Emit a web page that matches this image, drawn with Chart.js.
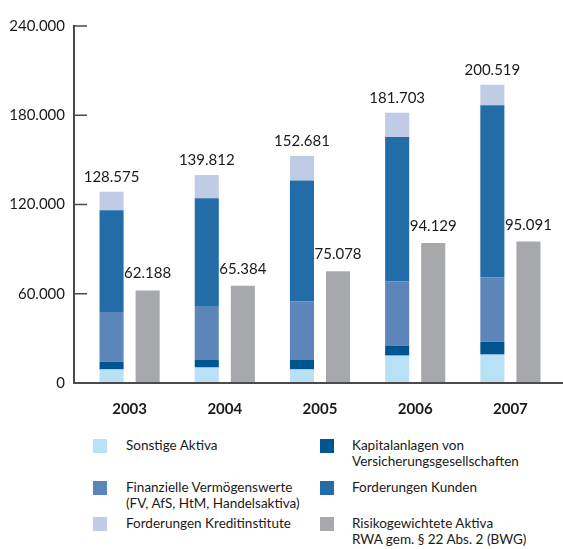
<!DOCTYPE html>
<html lang="de">
<head>
<meta charset="utf-8">
<script src="https://cdn.jsdelivr.net/npm/chart.js@4.4.0/dist/chart.umd.min.js"></script>
<style>
  body { margin: 0; background: #fff; font-family: Lato, sans-serif; }
  #wrap { position: relative; width: 563px; height: 549px; }
  #chart { position: absolute; left: 0; top: 0; }
  .item { position: absolute; font-size: 13.5px; line-height: 16px; color: #1a1a1a; white-space: pre-line; }
  .item span.box { position: absolute; width: 14px; height: 14px; }
</style>
</head>
<body>
<div id="wrap">
  <canvas id="chart" width="563" height="435"></canvas>
  <div id="legend"></div>
</div>
<script>
// Jahre
const years = ["2003", "2004", "2005", "2006", "2007"];

// Bilanzsumme, gestapelt (von unten nach oben)
const sonstigeAktiva = [9100, 10400, 9100, 18400, 19100];
const kapitalanlagen = [5300, 5400, 6700, 6700, 8600];
const finanzielleVW = [33300, 35900, 39200, 43200, 43300];
const forderungenKunden = [68500, 72500, 81200, 97100, 115700];
const forderungenKI = [12375, 15612, 16481, 16303, 13819];

// Risikogewichtete Aktiva
const rwa = [62188, 65384, 75078, 94129, 95091];

// Achse
const yTicks = [0, 60000, 120000, 180000, 240000];

const seriesNames = [
  "Sonstige Aktiva",
  "Kapitalanlagen von\nVersicherungsgesellschaften",
  "Finanzielle Vermögenswerte\n(FV, AfS, HtM, Handelsaktiva)",
  "Forderungen Kunden",
  "Forderungen Kreditinstitute",
  "Risikogewichtete Aktiva\nRWA gem. § 22 Abs. 2 (BWG)"
];
const seriesColors = ["#b9e1f6", "#00548f", "#5c85ba", "#226ca8", "#c0cce5", "#a7a8ac"];
const seriesData = [sonstigeAktiva, kapitalanlagen, finanzielleVW, forderungenKunden, forderungenKI, rwa];

function fmt(n) {
  return String(n).replace(/\B(?=(\d{3})+(?!\d))/g, ".");
}

const datasets = seriesData.map((d, i) => ({
  label: seriesNames[i],
  data: d,
  backgroundColor: seriesColors[i],
  stack: i < 5 ? "bilanz" : "rwa",
  borderWidth: 0,
  categoryPercentage: 0.758,
  barPercentage: 0.667
}));

// Achsenlinien wie im Original (Striche nach innen)
const axisPlugin = {
  id: "axisLines",
  afterDatasetsDraw(chart) {
    const ctx = chart.ctx;
    const y = chart.scales.y;
    const axX = chart.chartArea.left - 8;
    ctx.save();
    ctx.strokeStyle = "#4a4a4a";
    ctx.lineWidth = 2;
    ctx.beginPath();
    ctx.moveTo(axX, y.getPixelForValue(yTicks[yTicks.length - 1]) - 1);
    ctx.lineTo(axX, y.getPixelForValue(0) + 1);
    ctx.stroke();
    ctx.beginPath();
    ctx.moveTo(axX - 1, y.getPixelForValue(0));
    ctx.lineTo(chart.width, y.getPixelForValue(0));
    ctx.stroke();
    ctx.lineWidth = 1.5;
    yTicks.slice(1).forEach(v => {
      const py = y.getPixelForValue(v);
      ctx.beginPath();
      ctx.moveTo(axX, py);
      ctx.lineTo(axX + 13, py);
      ctx.stroke();
    });
    ctx.restore();
  }
};

// Werte über den Säulen
const valuePlugin = {
  id: "valueLabels",
  afterDatasetsDraw(chart) {
    const ctx = chart.ctx;
    ctx.save();
    ctx.font = "15px Lato";
    ctx.fillStyle = "#1a1a1a";
    ctx.textAlign = "center";
    ctx.textBaseline = "alphabetic";
    years.forEach((yr, i) => {
      const top = chart.getDatasetMeta(4).data[i];
      const total = seriesData.slice(0, 5).reduce((s, d) => s + d[i], 0);
      ctx.fillText(fmt(total), top.x, top.y - 10);
      const g = chart.getDatasetMeta(5).data[i];
      ctx.fillText(fmt(rwa[i]), g.x, g.y - 12);
    });
    ctx.restore();
  }
};

new Chart(document.getElementById("chart"), {
  type: "bar",
  data: { labels: years, datasets: datasets },
  options: {
    responsive: false,
    animation: false,
    devicePixelRatio: 1,
    layout: { padding: { top: 12, right: 5, left: 0, bottom: 8 } },
    plugins: { legend: { display: false }, tooltip: { enabled: false } },
    scales: {
      x: {
        stacked: true,
        grid: { display: false },
        border: { display: false },
        ticks: { color: "#1a1a1a", font: { family: "Lato", size: 15, weight: "bold" }, padding: 9 }
      },
      y: {
        stacked: true,
        min: 0,
        max: 240000,
        afterFit(scale) { scale.width = 82; },
        afterBuildTicks(scale) { scale.ticks = yTicks.map(v => ({ value: v })); },
        grid: { display: false, drawTicks: false },
        border: { display: false },
        ticks: {
          color: "#1a1a1a",
          font: { family: "Lato", size: 15 },
          padding: 17,
          callback: v => fmt(v)
        }
      }
    }
  },
  plugins: [axisPlugin, valuePlugin]
});

// Legende (zweispaltig)
const rowTops = [437, 479, 515];
const colLefts = [93, 320];
const legend = document.getElementById("legend");
seriesNames.forEach((name, i) => {
  const row = Math.floor(i / 2), col = i % 2;
  const item = document.createElement("div");
  item.className = "item";
  item.style.left = colLefts[col] + "px";
  item.style.top = rowTops[row] + "px";
  item.style.paddingLeft = (col === 0 ? 33 : 32) + "px";
  const box = document.createElement("span");
  box.className = "box";
  box.style.left = "0px";
  box.style.top = "2px";
  box.style.background = seriesColors[i];
  item.appendChild(box);
  item.appendChild(document.createTextNode(name));
  legend.appendChild(item);
});
</script>
</body>
</html>
